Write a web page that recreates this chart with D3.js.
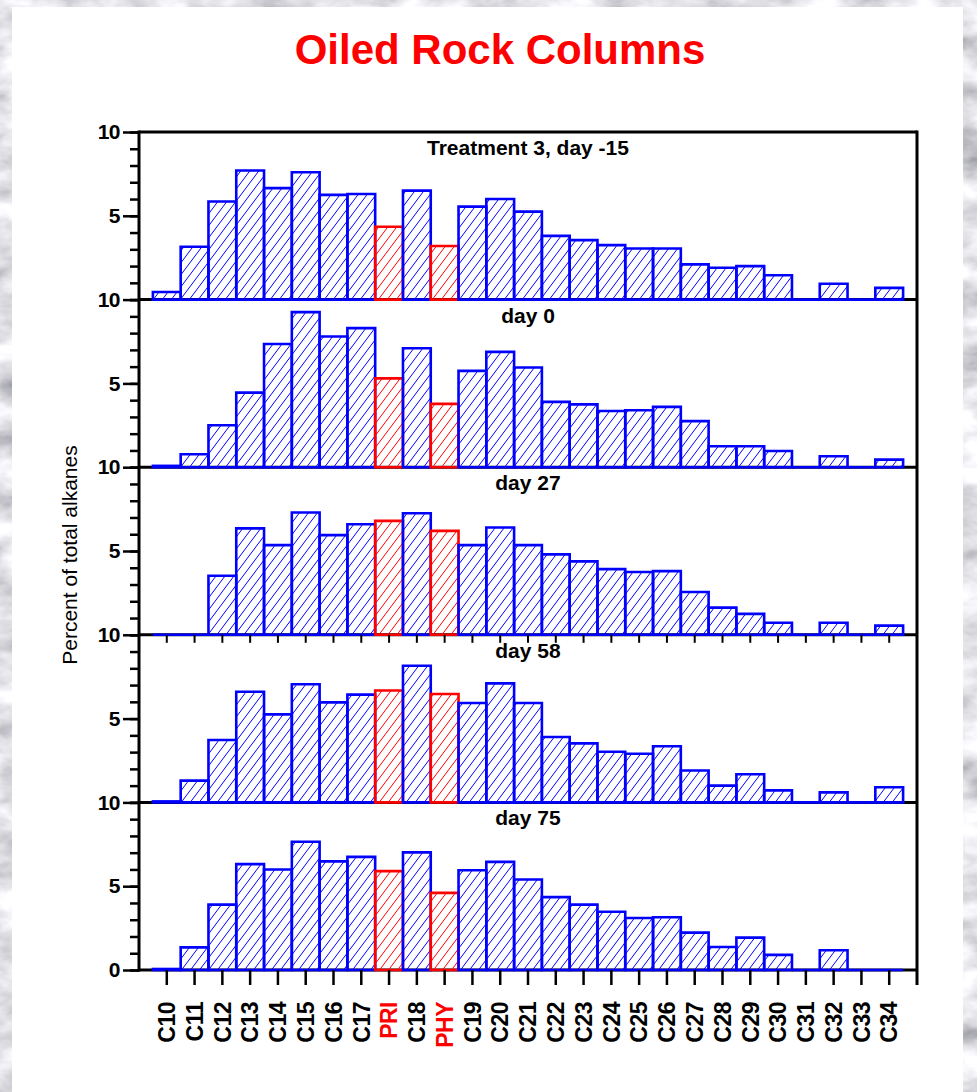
<!DOCTYPE html>
<meta charset="utf-8">
<head>
    <script src="https://d3js.org/d3.v7.min.js"></script>
    <style>
        body { margin: 0; background: #fff; }
        svg text { font-family: "Liberation Sans", Arial, Helvetica, sans-serif; }
    </style>
</head>
<body>
<svg id="chart" width="977" height="1092"></svg>
<script>

    // carbon numbers on the x axis, pristane / phytane sit between C17/C18 and C18/C19
    var categories = ["C10","C11","C12","C13","C14","C15","C16","C17","PRI","C18","PHY","C19","C20",
                      "C21","C22","C23","C24","C25","C26","C27","C28","C29","C30","C31","C32","C33","C34"];
    var redCats = ["PRI", "PHY"];

    var panelTitles = ["Treatment 3, day -15", "day 0", "day 27", "day 58", "day 75"];

    // percent of total alkanes
    var dayM15 = [0.45,3.15,5.85,7.7,6.65,7.6,6.25,6.3,4.35,6.5,3.2,5.55,6.0,5.25,3.8,3.55,3.25,3.05,3.05,2.1,1.9,2.0,1.45,0,0.95,0,0.7];
    var day0   = [0.08,0.77,2.5,4.45,7.35,9.25,7.8,8.3,5.3,7.1,3.78,5.75,6.88,5.95,3.9,3.75,3.35,3.4,3.6,2.75,1.25,1.25,0.97,0,0.65,0,0.45];
    var day27  = [0,0,3.52,6.35,5.35,7.3,5.95,6.6,6.8,7.25,6.2,5.35,6.4,5.35,4.8,4.38,3.92,3.75,3.8,2.55,1.62,1.25,0.72,0,0.72,0,0.55];
    var day58  = [0.06,1.3,3.72,6.6,5.25,7.05,5.97,6.43,6.68,8.15,6.47,5.93,7.1,5.93,3.9,3.52,3.02,2.9,3.35,1.9,1.0,1.68,0.72,0,0.6,0,0.9];
    var day75  = [0.06,1.35,3.9,6.32,6.0,7.65,6.48,6.75,5.9,7.02,4.6,5.95,6.45,5.4,4.35,3.9,3.48,3.1,3.15,2.23,1.37,1.93,0.9,0,1.18,0,0];

    var panels = [dayM15, day0, day27, day58, day75];

    var svg = d3.select("#chart");
    var W = 977, H = 1092;
    var plotLeft = 139, plotRight = 917, plotTop = 132, panelH = 167.6;
    var blue = "#0000ff", red = "#ff0000";

    // textured backdrop with a white sheet on top
    var defs = svg.append("defs");
    var f = defs.append("filter").attr("id", "marble")
        .attr("x", 0).attr("y", 0).attr("width", "100%").attr("height", "100%");
    f.append("feTurbulence").attr("type", "fractalNoise")
        .attr("baseFrequency", "0.02 0.035").attr("numOctaves", 4).attr("seed", 7);
    f.append("feColorMatrix").attr("type", "matrix")
        .attr("values", "1.1 0 0 0 0.2  1.1 0 0 0 0.2  1.1 0 0 0 0.24  0 0 0 0 1");
    svg.append("rect").attr("width", W).attr("height", H).attr("filter", "url(#marble)");
    svg.append("rect").attr("x", 12).attr("y", 7).attr("width", 951).attr("height", H - 7).attr("fill", "#fff");

    function hatch(id, color) {
        var p = defs.append("pattern").attr("id", id)
            .attr("patternUnits", "userSpaceOnUse").attr("width", 9).attr("height", 12);
        p.append("path")
            .attr("d", "M-1,13.33L10,-1.33M-1,1.33L1,-1.33M8,13.33L10,10.67")
            .attr("stroke", color).attr("stroke-width", 1).attr("fill", "none");
    }
    hatch("hatchBlue", blue);
    hatch("hatchRed", red);

    var x = d3.scaleBand().domain(categories).range([plotLeft, plotRight])
        .paddingInner(0).paddingOuter(0.5);

    svg.append("text")
        .attr("x", 500).attr("y", 64)
        .attr("text-anchor", "middle")
        .style("font-size", "42px").style("font-weight", "bold")
        .attr("fill", red)
        .text("Oiled Rock Columns");

    // panel separators first so that bar bottoms sit over them
    d3.range(6).forEach(function(i) {
        svg.append("line")
            .attr("x1", plotLeft).attr("x2", plotRight)
            .attr("y1", plotTop + i * panelH).attr("y2", plotTop + i * panelH)
            .attr("stroke", "#000").attr("stroke-width", 3);
    });

    panels.forEach(function(vals, i) {
        var y0 = plotTop + i * panelH;
        var y = d3.scaleLinear().domain([0, 10]).range([y0 + panelH, y0]);
        var g = svg.append("g");

        g.selectAll("path.bar")
            .data(vals.map(function(v, j) { return {cat: categories[j], v: v}; }))
            .enter().append("path")
            .attr("class", "bar")
            .attr("d", function(d) {
                var x0 = x(d.cat), x1 = x0 + x.bandwidth();
                return "M" + x0 + "," + y(0) + "V" + y(d.v) + "H" + x1 + "V" + y(0) + "Z";
            })
            .attr("fill", function(d) { return redCats.indexOf(d.cat) >= 0 ? "url(#hatchRed)" : "url(#hatchBlue)"; })
            .attr("stroke", function(d) { return redCats.indexOf(d.cat) >= 0 ? red : blue; })
            .attr("stroke-width", 2.6);

        // minor ticks every unit
        var minor = svg.append("g").attr("transform", "translate(" + plotLeft + ",0)")
            .call(d3.axisLeft(y).tickValues(d3.range(0, 11)).tickSize(9).tickFormat(""));
        minor.select(".domain").remove();
        minor.selectAll("line").attr("stroke-width", 2.5);

        var majorVals = i === panels.length - 1 ? [0, 5, 10] : [5, 10];
        var major = svg.append("g").attr("transform", "translate(" + plotLeft + ",0)")
            .call(d3.axisLeft(y).tickValues(majorVals).tickSize(16).tickPadding(3));
        major.select(".domain").remove();
        major.selectAll("line").attr("stroke-width", 2.5);
        major.selectAll("text")
            .style("font-size", "21px").style("font-weight", "bold")
            .style("letter-spacing", "-0.5px")
            .attr("fill", "#000");

        svg.append("text")
            .attr("x", 528).attr("y", y0 + 23)
            .attr("text-anchor", "middle")
            .style("font-size", "21px").style("font-weight", "bold")
            .text(panelTitles[i]);
    });

    // little inward ticks under the day 27 panel
    var inner = svg.append("g").attr("transform", "translate(0," + (plotTop + 3 * panelH) + ")")
        .call(d3.axisBottom(x).tickSize(8).tickFormat("").tickSizeOuter(0));
    inner.select(".domain").remove();
    inner.selectAll("line").attr("stroke-width", 2);

    var bottomY = plotTop + 5 * panelH;
    var xAxis = svg.append("g").attr("transform", "translate(0," + bottomY + ")")
        .call(d3.axisBottom(x).tickSize(15).tickFormat("").tickSizeOuter(0));
    xAxis.select(".domain").remove();
    xAxis.selectAll("line").attr("stroke-width", 2.5);

    svg.append("line")
        .attr("x1", plotLeft).attr("x2", plotLeft).attr("y1", plotTop - 1.5).attr("y2", bottomY + 1.5)
        .attr("stroke", "#000").attr("stroke-width", 3);
    svg.append("line")
        .attr("x1", plotRight).attr("x2", plotRight).attr("y1", plotTop - 1.5).attr("y2", bottomY + 15)
        .attr("stroke", "#000").attr("stroke-width", 3);

    svg.selectAll("text.xlab")
        .data(categories)
        .enter().append("text")
        .attr("class", "xlab")
        .attr("transform", function(d) {
            return "translate(" + (x(d) + x.bandwidth() / 2) + ",1002) rotate(-90)";
        })
        .attr("dy", "0.36em")
        .attr("text-anchor", "end")
        .style("font-size", "23px").style("font-weight", "bold")
        .style("letter-spacing", "-0.5px")
        .attr("fill", function(d) { return redCats.indexOf(d) >= 0 ? red : "#000"; })
        .text(function(d) { return d; });

    svg.append("text")
        .attr("transform", "translate(77,555) rotate(-90)")
        .attr("text-anchor", "middle")
        .style("font-size", "21px")
        .text("Percent of total alkanes");

</script>
</body>
